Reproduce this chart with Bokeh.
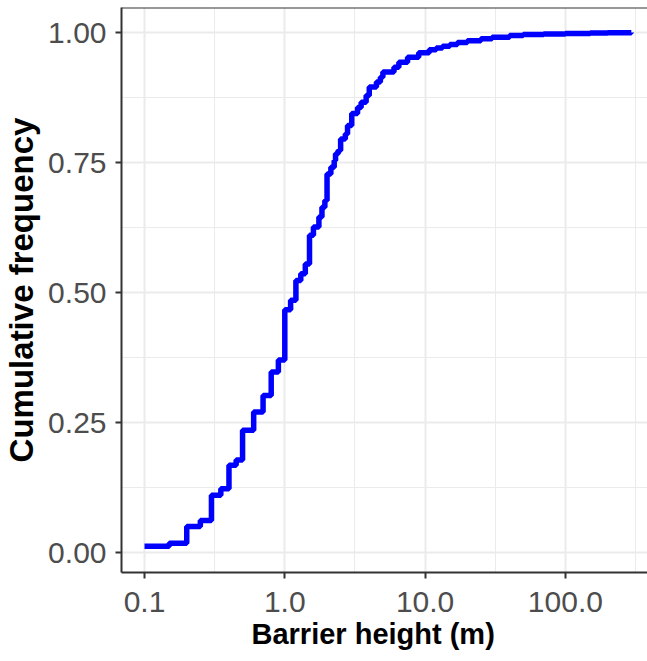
from bokeh.plotting import figure
from bokeh.models import FixedTicker, Span, Title
from bokeh.embed import file_html
from bokeh.resources import INLINE

# ECDF of barrier heights (step positions in m, cumulative frequency after each step)
barrier_height = [0.1, 0.15, 0.2, 0.25, 0.3, 0.35, 0.4, 0.45, 0.5, 0.6, 0.7, 0.8, 0.9,
                  1.0, 1.1, 1.2, 1.3, 1.4, 1.5, 1.6, 1.75, 1.84, 1.93, 2.0, 2.13, 2.25,
                  2.3, 2.4, 2.5, 2.7, 2.8, 3.0, 3.3, 3.5, 3.8, 4.0, 4.5, 4.8, 5.0, 6.0,
                  6.5, 7.5, 9.0, 10.7, 12.0, 13.3, 15.0, 17.0, 20.0, 25.0, 30.0, 40.0,
                  50.0, 70.0, 100.0, 150.0, 200.0, 295.0]
cum_freq = [0.012, 0.018, 0.050, 0.0615, 0.110, 0.1225, 0.168, 0.178, 0.235, 0.270,
            0.302, 0.347, 0.370, 0.467, 0.485, 0.523, 0.536, 0.555, 0.610, 0.626,
            0.645, 0.664, 0.677, 0.728, 0.741, 0.754, 0.767, 0.773, 0.795, 0.805,
            0.821, 0.844, 0.856, 0.866, 0.879, 0.895, 0.905, 0.914, 0.924, 0.933,
            0.943, 0.9525, 0.961, 0.967, 0.970, 0.9737, 0.977, 0.981, 0.984, 0.988,
            0.991, 0.994, 0.996, 0.997, 0.998, 0.999, 0.9995, 1.0]

x_ticks = [0.1, 1.0, 10.0, 100.0]
x_tick_labels = ["0.1", "1.0", "10.0", "100.0"]
x_minor = [10 ** -0.5, 10 ** 0.5, 10 ** 1.5, 10 ** 2.5]
y_ticks = [0.0, 0.25, 0.5, 0.75, 1.0]
y_tick_labels = ["0.00", "0.25", "0.50", "0.75", "1.00"]
y_minor = [0.125, 0.375, 0.625, 0.875]

FONT = "Liberation Sans"
BORDER = "#333333"
GRID = "#EBEBEB"

x_start = 10 ** (-1 - 23 / 140.3)
x_end = 10 ** (-1 + 505 / 140.3)
y_start = -20 / 520
y_end = 1 + 25 / 520

p = figure(frame_width=528, frame_height=565, x_axis_type="log",
           x_range=(x_start, x_end), y_range=(y_start, y_end),
           output_backend="svg", toolbar_location=None,
           min_border_left=119, min_border_right=0, min_border_top=7,
           min_border_bottom=89)
p.outline_line_color = None
p.background_fill_color = "white"

p.step(barrier_height, cum_freq, mode="after", line_color="#0000FF",
       line_width=5.5)

p.xaxis.ticker = FixedTicker(ticks=x_ticks, minor_ticks=x_minor)
p.yaxis.ticker = FixedTicker(ticks=y_ticks, minor_ticks=y_minor)
p.xaxis.major_label_overrides = dict(zip(x_ticks, x_tick_labels))
p.yaxis.major_label_overrides = dict(zip(y_ticks, y_tick_labels))

for ax in (p.xaxis, p.yaxis):
    ax.axis_line_color = BORDER
    ax.axis_line_width = 2
    ax.major_tick_line_color = BORDER
    ax.major_tick_line_width = 2
    ax.major_tick_out = 6
    ax.major_tick_in = 0
    ax.minor_tick_line_color = None
    ax.major_label_text_font = FONT
    ax.major_label_text_font_size = "30px"
    ax.major_label_text_color = "#4D4D4D"
    ax.axis_label_text_font = FONT
    ax.axis_label_text_font_style = "bold"
    ax.axis_label_text_color = "black"

p.xaxis.major_label_standoff = 13

p.yaxis.axis_label = "Cumulative frequency"
p.yaxis.axis_label_text_font_size = "33px"
p.yaxis.major_label_standoff = 9
p.yaxis.axis_label_standoff = 5

x_title = Title(text="Barrier height (m)", align="left", offset=130,
                text_font=FONT, text_font_size="29px", text_font_style="bold",
                text_color="black", standoff=2)
p.add_layout(x_title, "below")

for g in (p.xgrid, p.ygrid):
    g.grid_line_color = GRID
    g.grid_line_width = 2
    g.minor_grid_line_color = GRID
    g.minor_grid_line_width = 1

top_border = Span(location=y_end, dimension="width", line_color=BORDER,
                  line_width=2)
p.add_layout(top_border)

open("out.html", "w").write(file_html(p, INLINE))
